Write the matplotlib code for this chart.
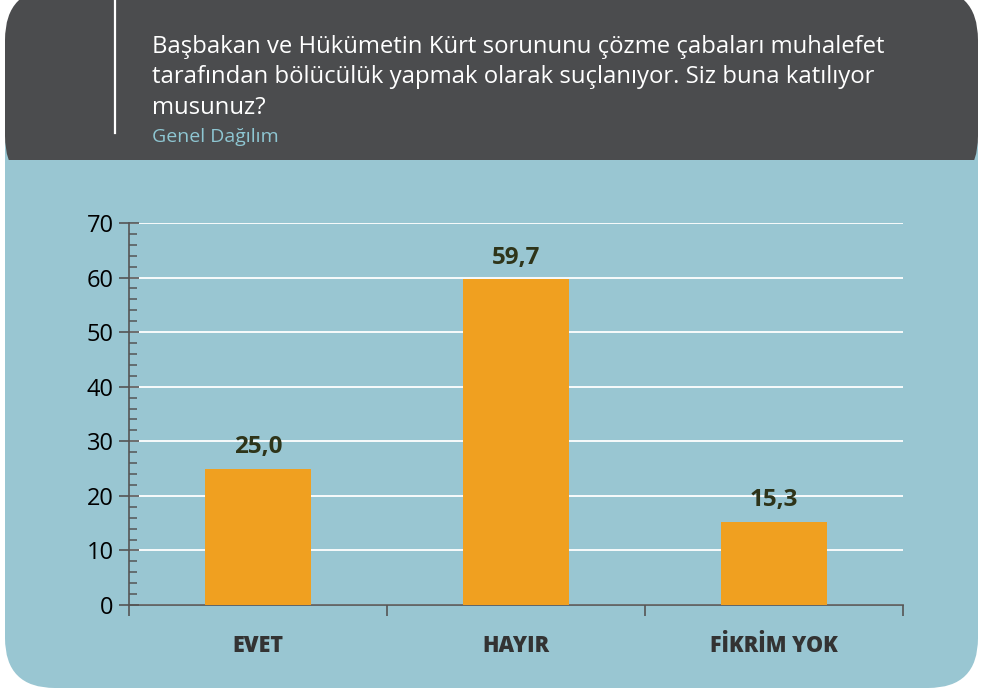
import matplotlib.pyplot as plt
from matplotlib.patches import FancyBboxPatch, Rectangle
from matplotlib.ticker import MultipleLocator, FixedLocator, NullFormatter

categories = ["EVET", "HAYIR", "FİKRİM YOK"]
values = [25.0, 59.7, 15.3]
value_labels = ["25,0", "59,7", "15,3"]
title = ("Başbakan ve Hükümetin Kürt sorununu çözme çabaları muhalefet\n"
         "tarafından bölücülük yapmak olarak suçlanıyor. Siz buna katılıyor\n"
         "musunuz?")
subtitle = "Genel Dağılım"

plt.rcParams['font.family'] = ['Open Sans', 'DejaVu Sans']

W, H = 981, 691
fig = plt.figure(figsize=(W / 100, H / 100), dpi=100)
fig.patch.set_facecolor('white')

# background panel in pixel coordinates
bg = fig.add_axes([0, 0, 1, 1], zorder=-1)
bg.set_xlim(0, W)
bg.set_ylim(H, 0)
bg.axis('off')
blue = '#99c6d2'
dark = '#4b4c4e'
bg.add_patch(FancyBboxPatch((5, 100), 973, 588, boxstyle="round,pad=0,rounding_size=50",
                            fc=blue, ec='none'))
bg.add_patch(FancyBboxPatch((5, -12), 973, 200, boxstyle="round,pad=0,rounding_size=52",
                            fc=dark, ec='none'))
bg.add_patch(Rectangle((5, 160), 973, 150, fc=blue, ec='none'))
bg.plot([115, 115], [0, 133], color='white', lw=1.6)
bg.text(152, 35, title, color='white', fontsize=17.2, va='top', ha='left',
        linespacing=1.36)
bg.text(152, 137, subtitle, color='#8ec6d2', fontsize=14, va='center', ha='left')

# chart
ax = fig.add_axes([129 / W, (H - 605) / H, 774 / W, 382 / H])
ax.set_facecolor('none')
x = range(len(categories))
ax.bar(x, values, width=0.41, color='#f0a020', zorder=3)
ax.set_xlim(-0.5, 2.5)
ax.set_ylim(0, 70)

for s in ['top', 'right']:
    ax.spines[s].set_visible(False)
for s in ['left', 'bottom']:
    ax.spines[s].set_color('#555555')
    ax.spines[s].set_linewidth(1.2)

ax.yaxis.set_major_locator(MultipleLocator(10))
ax.yaxis.set_minor_locator(MultipleLocator(2))
ax.tick_params(axis='y', which='major', direction='inout', length=14, width=1.2,
               color='#555555', labelsize=17, labelcolor='black', pad=4)
ax.tick_params(axis='y', which='minor', direction='in', length=6, width=1.1, color='#555555')
ax.grid(axis='y', which='major', color='white', lw=1.3, zorder=1)

ax.xaxis.set_major_locator(FixedLocator([-0.5, 0.5, 1.5, 2.5]))
ax.xaxis.set_major_formatter(NullFormatter())
ax.xaxis.set_minor_locator(FixedLocator(list(x)))
ax.set_xticklabels(categories, minor=True)
ax.tick_params(axis='x', which='major', direction='out', length=8, width=1.2, color='#555555')
ax.tick_params(axis='x', which='minor', length=0, pad=21, labelsize=15.5, labelcolor='#333333')
for lab in ax.get_xticklabels(minor=True):
    lab.set_fontweight(800)

for xi, v, lab in zip(x, values, value_labels):
    ax.annotate(lab, (xi, v), xytext=(0, 11), textcoords='offset points', ha='center',
                va='baseline', fontsize=17.5, fontweight='bold', color='#2e3419')

fig.savefig('out.png', dpi=100)
